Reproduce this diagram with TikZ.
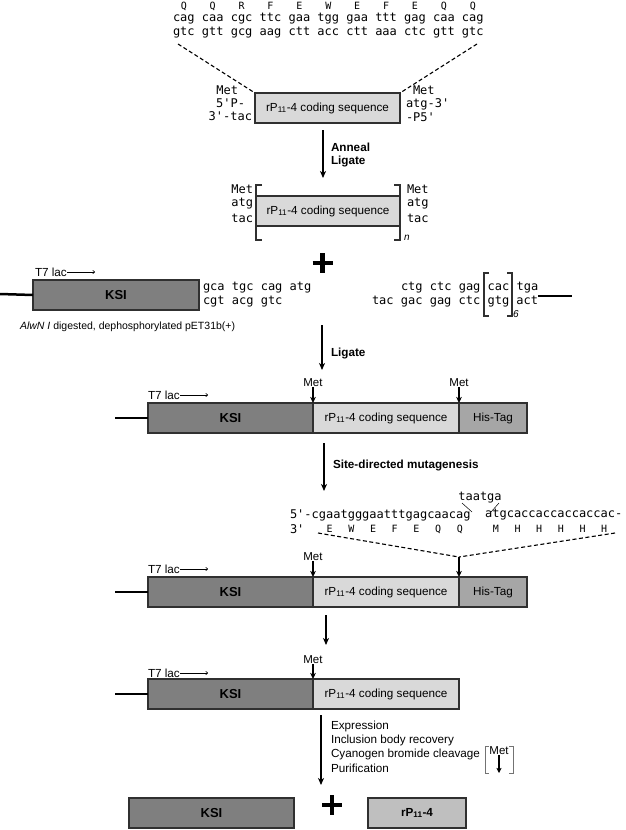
\documentclass[tikz,border=0pt]{standalone}
\usepackage{fontspec}
\setmainfont{Liberation Sans}
\newfontfamily\seqfont{DejaVu Sans Mono}
\usetikzlibrary{arrows.meta}
\definecolor{ksi}{HTML}{7F7F7F}
\definecolor{rp}{HTML}{D9D9D9}
\definecolor{his}{HTML}{A6A6A6}
\definecolor{rpb}{HTML}{BFBFBF}
\definecolor{edge}{HTML}{303030}
\begin{document}
\begin{tikzpicture}[x=1pt,y=-1pt,
  every node/.style={inner sep=0pt, outer sep=0pt},
  lbl/.style={font=\fontsize{11.7}{13}\selectfont},
  metlbl/.style={font=\fontsize{11.5}{13}\selectfont},
  blbl/.style={font=\bfseries\fontsize{11.7}{13}\selectfont},
  seq/.style={font=\seqfont\fontsize{12}{13}\selectfont},
  aa/.style={font=\seqfont\fontsize{10}{12}\selectfont},
  gbox/.style={draw=edge, line width=1.1pt, minimum height=30, anchor=north west, font=\fontsize{11.7}{13}\selectfont},
  ksibox/.style={gbox, fill=ksi, minimum width=165, font=\bfseries\fontsize{13}{15}\selectfont},
  rpbox/.style={gbox, fill=rp, minimum width=146},
  hisbox/.style={gbox, fill=his, minimum width=68},
  arr/.style={line width=1.2pt, -{Stealth[length=7pt,width=6pt,inset=2pt]}},
  sarr/.style={line width=1.2pt, -{Stealth[length=6pt,width=5.5pt,inset=1.5pt]}},
  tarr/.style={line width=0.6pt, -{To[length=2.5pt,width=4pt]}},
  dsh/.style={line width=1.1pt, dash pattern=on 4pt off 2.5pt},
  brk/.style={line width=1.3pt, draw=edge},
  gbrk/.style={line width=0.6pt, draw=black!55},
  vline/.style={line width=2.5pt},
  plusline/.style={line width=4.4pt},
  sub/.style={font=\itshape\fontsize{10}{12}\selectfont}
]
\useasboundingbox (0,0) rectangle (625,830);

% ---------- top oligo ----------
\foreach \a [count=\i from 0] in {Q,Q,R,F,E,W,E,F,E,Q,Q}
  \node[aa] (aa\i) at ({183.8+28.9*\i},6) {\a};
\node[seq, anchor=west] (c1) at (173,19) {cag caa cgc ttc gaa tgg gaa ttt gag caa cag};
\node[seq, anchor=west] (c2) at (173,33) {gtc gtt gcg aag ctt acc ctt aaa ctc gtt gtc};

\node[rpbox, minimum width=145] (tb) at (255,93) {rP\textsubscript{11}-4 coding sequence};
\coordinate (dl0) at (178,44);
\coordinate (dr0) at (477,44);
\draw[dsh] (dl0) -- (tb.north west);
\draw[dsh] (dr0) -- (tb.north east);

\node[seq, anchor=east] (tl1) at (238,90) {Met};
\node[seq, anchor=east] (tl2) at (245,103) {5'P-};
\node[seq, anchor=east] (tl3) at (252,116) {3'-tac};
\node[seq, anchor=west] (tr1) at (413,90) {Met};
\node[seq, anchor=west] (tr2) at (406,104) {atg-3'};
\node[seq, anchor=west] (tr3) at (406,117) {-P5'};

\coordinate (a1s) at (323,130);
\coordinate (a1e) at (323,178);
\draw[arr] (a1s) -- (a1e);
\node[blbl, anchor=west] (anneal) at (331,147) {Anneal};
\node[blbl, anchor=west] (lig1) at (331,161) {Ligate};

% ---------- multimer ----------
\node[rpbox, minimum width=144] (mb) at (256,196) {rP\textsubscript{11}-4 coding sequence};
\draw[brk] (262,185) -- (256,185) -- (256,240) -- (262,240);
\draw[brk] (394,185) -- (400,185) -- (400,240) -- (394,240);
\node[sub, anchor=west] (nn) at (404,238) {n};
\node[seq, anchor=east] (ml1) at (253,189) {Met};
\node[seq, anchor=east] (ml2) at (253,204) {atg};
\node[seq, anchor=east] (ml3) at (253,218) {tac};
\node[seq, anchor=west] (mr1) at (407,189) {Met};
\node[seq, anchor=west] (mr2) at (407,204) {atg};
\node[seq, anchor=west] (mr3) at (407,218) {tac};

\draw[plusline] (312.5,263) -- (332.5,263);
\draw[plusline] (322.5,253) -- (322.5,273);

% ---------- vector ----------
\node[ksibox, minimum width=166] (ksi1) at (33,280) {KSI};
\coordinate (l1) at (0,294);
\draw[vline] (l1) -- (ksi1.west);
\node[lbl, anchor=west] (t71) at (35,272) {T7 lac};
\coordinate (t71e) at (95,272);
\draw[tarr] (t71.east) -- (t71e);
\node[seq, anchor=west] (s1) at (203,288) {gca tgc cag atg};
\node[seq, anchor=west] (s2) at (203,302) {cgt acg gtc};
\node[seq, anchor=west] (s3) at (401,288) {ctg ctc gag cac tga};
\node[seq, anchor=west] (s4) at (372,302) {tac gac gag ctc gtg act};
\draw[brk] (489,273) -- (484,273) -- (484,316) -- (489,316);
\draw[brk] (507,273) -- (512,273) -- (512,316) -- (507,316);
\node[sub, anchor=west] (six) at (513,314) {6};
\coordinate (r1a) at (538,296);
\coordinate (r1b) at (572,296);
\draw[vline] (r1a) -- (r1b);
\node[font=\fontsize{10.5}{12}\selectfont, anchor=west] (alwn) at (20,327) {\textit{AlwN I} digested, dephosphorylated pET31b(+)};

\coordinate (a2s) at (322,325);
\coordinate (a2e) at (322,370);
\draw[arr] (a2s) -- (a2e);
\node[blbl, anchor=west] (lig2) at (331,353) {Ligate};

% ---------- construct 1 ----------
\node[ksibox] (ksi2) at (148,403) {KSI};
\node[rpbox] (rp2) at (313,403) {rP\textsubscript{11}-4 coding sequence};
\node[hisbox] (his2) at (459,403) {His-Tag};
\coordinate (l2) at (115,418);
\draw[vline] (l2) -- (ksi2.west);
\node[metlbl] (m2a) at (313,383) {Met};
\node[metlbl] (m2b) at (459,383) {Met};
\draw[sarr] (m2a.south) -- (rp2.north west);
\draw[sarr] (m2b.south) -- (his2.north west);
\node[lbl, anchor=west] (t72) at (148,395) {T7 lac};
\coordinate (t72e) at (208,395);
\draw[tarr] (t72.east) -- (t72e);

\coordinate (a3s) at (324,443);
\coordinate (a3e) at (324,491);
\draw[arr] (a3s) -- (a3e);
\node[blbl, anchor=west] (sdm) at (333,465) {Site-directed mutagenesis};

% ---------- mutagenesis ----------
\node[seq] (taatga) at (480,498) {taatga};
\coordinate (ta1) at (462,503);
\coordinate (ta2) at (472,512);
\coordinate (ta3) at (499,503);
\coordinate (ta4) at (491,512);
\draw[line width=0.5pt] (ta1) -- (ta2);
\draw[line width=0.5pt] (ta3) -- (ta4);
\node[seq, anchor=west] (m5a) at (290,515) {5'-cgaatgggaatttgagcaacag};
\node[seq, anchor=west] (m5b) at (485.1,515) {atgcaccaccaccaccac-};
\node[seq, anchor=west] (m3) at (290,529) {3'};
\foreach \c/\i in {E/5,W/8,E/11,F/14,E/17,Q/20,Q/23,M/28,H/31,H/34,H/37,H/40,H/43}
  \node[aa] (p\i) at ({290+7.224*(\i+0.5)},529) {\c};
\coordinate (dl1) at (318,533);
\coordinate (dr1) at (615,533);
\coordinate (jn) at (459,557);
\draw[dsh] (dl1) -- (jn);
\draw[dsh] (dr1) -- (jn);

% ---------- construct 2 ----------
\node[ksibox] (ksi3) at (148,577) {KSI};
\node[rpbox] (rp3) at (313,577) {rP\textsubscript{11}-4 coding sequence};
\node[hisbox] (his3) at (459,577) {His-Tag};
\coordinate (l3) at (115,592);
\draw[vline] (l3) -- (ksi3.west);
\draw[sarr] (jn) -- (his3.north west);
\node[metlbl] (m3a) at (313,557) {Met};
\draw[sarr] (m3a.south) -- (rp3.north west);
\node[lbl, anchor=west] (t73) at (148,569) {T7 lac};
\coordinate (t73e) at (208,569);
\draw[tarr] (t73.east) -- (t73e);

\coordinate (a4s) at (326,615);
\coordinate (a4e) at (326,645);
\draw[arr] (a4s) -- (a4e);

% ---------- construct 3 ----------
\node[ksibox] (ksi4) at (148,679) {KSI};
\node[rpbox] (rp4) at (313,679) {rP\textsubscript{11}-4 coding sequence};
\coordinate (l4) at (115,694);
\draw[vline] (l4) -- (ksi4.west);
\node[metlbl] (m4a) at (313,660) {Met};
\draw[sarr] (m4a.south) -- (rp4.north west);
\node[lbl, anchor=west] (t74) at (148,673) {T7 lac};
\coordinate (t74e) at (208,673);
\draw[tarr] (t74.east) -- (t74e);

\coordinate (a5s) at (321,715);
\coordinate (a5e) at (321,785);
\draw[arr] (a5s) -- (a5e);
\node[lbl, anchor=west] (st1) at (331,726) {Expression};
\node[lbl, anchor=west] (st2) at (331,740) {Inclusion body recovery};
\node[lbl, anchor=west] (st3) at (331,754) {Cyanogen bromide cleavage};
\node[lbl, anchor=west] (st4) at (331,768) {Purification};
\draw[gbrk] (489,746) -- (485,746) -- (485,773) -- (489,773);
\draw[gbrk] (509,746) -- (513,746) -- (513,773) -- (509,773);
\node[metlbl] (cm) at (499,751) {Met};
\coordinate (cme) at (499,773);
\draw[line width=1.6pt, -{Stealth[length=5pt,width=5pt,inset=1pt]}] (cm.south) -- (cme);

% ---------- products ----------
\node[ksibox] (ksi5) at (129,798) {KSI};
\draw[plusline] (322,805) -- (342,805);
\draw[plusline] (332,795) -- (332,815);
\node[gbox, fill=rpb, minimum width=98, font=\bfseries\fontsize{11.7}{13}\selectfont] (rp5) at (368,798) {rP\textsubscript{11}-4};
\end{tikzpicture}
\end{document}
